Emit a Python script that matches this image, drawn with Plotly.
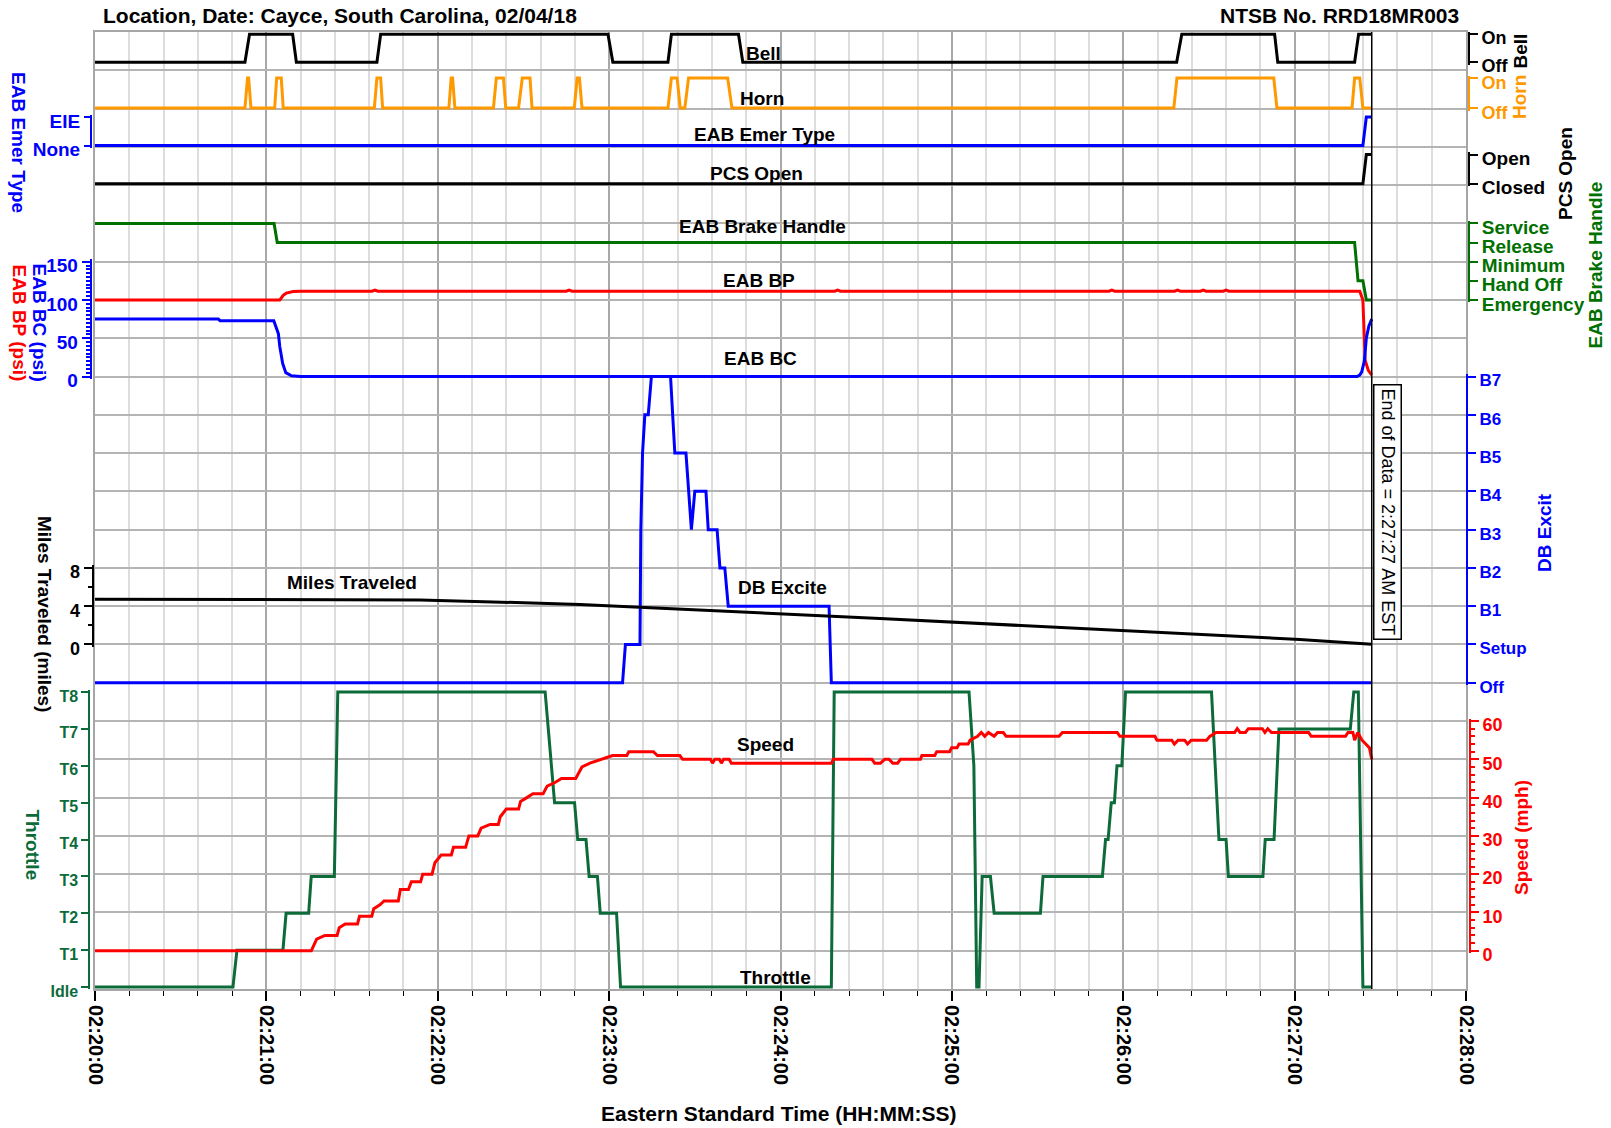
import pandas as pd
import plotly.graph_objects as go

# ---------------------------------------------------------------- data
# times are seconds after 02:20:00 EST, 02/04/18
START = pd.Timestamp("2018-02-04 02:20:00")
STOP = pd.Timestamp("2018-02-04 02:28:00")
END_OF_DATA = pd.Timestamp("2018-02-04 02:27:27")

BELL = [(0, 0), (52.5, 0), (54.1, 1), (69.2, 1), (70.5, 0), (98.7, 0), (100.0, 1),
        (179.6, 1), (181.3, 0), (200.6, 0), (201.8, 1), (225.3, 1), (226.8, 0),
        (378.7, 0), (380.5, 1), (413.0, 1), (414.1, 0), (441.0, 0), (442.4, 1), (447.0, 1)]

HORN = [(0, 0),
        (52.5, 0), (53.4, 1), (53.8, 1), (54.6, 0),
        (62.9, 0), (63.6, 1), (65.2, 1), (65.9, 0),
        (97.8, 0), (98.7, 1), (100.0, 1), (100.7, 0),
        (123.9, 0), (124.7, 1), (125.2, 1), (126.0, 0),
        (139.5, 0), (140.5, 1), (143.0, 1), (143.8, 0),
        (148.3, 0), (149.6, 1), (152.3, 1), (153.0, 0),
        (167.8, 0), (168.8, 1), (169.6, 1), (170.5, 0),
        (200.6, 0), (201.8, 1), (203.8, 1), (204.9, 0),
        (206.5, 0), (207.8, 1), (221.5, 1), (223.0, 0),
        (377.7, 0), (378.8, 1), (412.7, 1), (413.8, 0),
        (440.1, 0), (441.0, 1), (442.8, 1), (443.9, 0),
        (447.0, 0)]

EMER_TYPE = [(0, 0), (443.9, 0), (445.1, 1), (447.0, 1)]          # 0 None, 1 EIE
PCS_OPEN = [(0, 0), (443.9, 0), (445.1, 1), (447.0, 1)]           # 0 Closed, 1 Open

# 0 Emergency, 1 Hand Off, 2 Minimum, 3 Release, 4 Service
BRAKE_HANDLE = [(0, 4), (62.7, 4), (63.8, 3), (441.0, 3), (442.2, 1),
                (443.9, 1), (445.1, 0), (447.0, 0)]

BRAKE_PIPE = [(0, 100), (64.7, 100), (65.9, 106), (67.0, 109), (69.4, 111), (72.0, 111.5),
              (97.0, 111.5), (98.0, 113), (99.0, 111.5), (165.0, 111.5), (166.0, 113),
              (167.0, 111.5), (259.0, 111.5), (260.0, 113), (261.0, 111.5),
              (355.0, 111.5), (356.0, 113), (357.0, 111.5), (378.0, 111.5), (379.0, 113),
              (380.0, 111.5), (387.0, 111.5), (388.0, 113), (389.0, 111.5),
              (395.0, 111.5), (396.0, 113), (397.0, 111.5), (442.8, 111.5),
              (443.9, 100), (444.7, 21), (445.8, 8), (447.0, 2)]

BRAKE_CYL = [(0, 75), (43.2, 75), (43.8, 73), (62.6, 73), (64.2, 56), (64.7, 39),
             (65.7, 17), (66.8, 5), (68.8, 1), (72.0, 0), (441.8, 0), (442.8, 2),
             (443.5, 6), (444.4, 20), (445.1, 50), (446.0, 66), (447.0, 75)]

# 0 Off, 1 Setup, 2..8 = B1..B7
DB_EXCITE = [(0, 0), (184.7, 0), (185.7, 1), (190.8, 1), (191.1, 4), (191.7, 6),
             (192.5, 7), (193.7, 7), (194.8, 8), (201.5, 8), (203.0, 6), (206.9, 6),
             (208.8, 4), (210.0, 5), (213.9, 5), (214.7, 4), (217.8, 4), (218.8, 3),
             (220.5, 3), (221.7, 2), (257.0, 2), (257.8, 0), (447.0, 0)]

MILES = [(0, 4.73), (70.0, 4.73), (93.8, 4.73), (113.8, 4.66), (139.3, 4.45),
         (169.8, 4.18), (274.8, 2.72), (421.8, 0.52), (447.0, 0.03)]

# 0 Idle, 1..8 = T1..T8
THROTTLE = [(0, 0), (48.3, 0), (49.7, 1), (65.8, 1), (66.9, 2), (74.8, 2), (75.7, 3),
            (83.8, 3), (85.0, 8), (157.6, 8), (160.9, 5), (167.9, 5), (169.0, 4),
            (171.9, 4), (173.0, 3), (175.9, 3), (176.9, 2), (182.6, 2), (184.0, 0),
            (257.8, 0), (258.8, 8), (306.0, 8), (307.7, 6), (308.3, 3), (308.7, 0),
            (309.5, 0), (310.6, 3), (313.5, 3), (314.8, 2), (331.0, 2), (331.9, 3),
            (352.7, 3), (353.8, 4), (354.7, 4), (355.8, 5), (356.9, 5), (357.8, 6),
            (359.5, 6), (360.8, 8), (390.9, 8), (393.5, 4), (396.0, 4), (396.8, 3),
            (408.9, 3), (409.7, 4), (412.8, 4), (414.5, 7), (439.5, 7), (440.7, 8),
            (442.3, 8), (443.9, 0), (447.0, 0)]

SPEED = [(0, 0), (75.75, 0), (77.6, 3), (80.5, 4), (84.75, 4), (85.5, 6), (87.6, 7),
         (91.9, 7), (92.6, 9), (96.9, 9), (97.6, 11), (99.75, 12), (101.2, 13),
         (106.2, 13), (106.9, 16), (109.75, 16), (110.75, 18), (114.0, 18), (114.75, 20),
         (118.0, 20), (119.0, 23), (121.2, 25), (124.75, 25), (125.5, 27), (129.75, 27),
         (130.9, 30), (134.0, 30), (135.2, 32), (138.3, 33), (141.2, 33), (141.9, 35),
         (144.0, 37), (148.3, 37), (149.0, 39), (151.2, 40), (153.3, 41), (156.9, 41),
         (158.3, 43), (161.2, 44), (163.3, 45), (168.3, 45), (170.5, 48), (173.3, 49),
         (176.9, 50), (181.2, 51), (186.2, 51), (186.9, 52), (195.5, 52), (196.9, 51),
         (204.75, 51), (205.75, 50), (215.5, 50), (216.2, 49), (217.0, 50), (218.6, 50),
         (219.3, 49), (220.1, 50), (222.0, 50), (222.8, 49), (257.8, 49), (258.5, 50),
         (272.0, 50), (273.0, 49), (275.0, 49), (276.5, 50), (278.0, 50), (279.3, 49),
         (281.0, 49), (282.0, 50), (289.0, 50), (289.5, 51), (294.0, 51), (294.7, 52),
         (299.2, 52), (299.9, 53), (301.8, 53), (302.5, 54), (305.7, 54), (306.4, 55),
         (309.0, 56), (310.3, 57), (311.5, 56), (312.8, 57), (314.8, 56), (316.0, 57),
         (318.0, 57), (319.0, 56), (337.5, 56), (338.7, 57), (357.9, 57), (358.8, 56),
         (371.1, 56), (371.8, 55), (377.0, 55), (377.9, 54), (379.2, 55), (381.5, 55),
         (382.5, 54), (383.8, 55), (389.2, 55), (390.3, 56), (392.5, 57), (399.0, 57),
         (399.9, 58), (400.9, 57), (402.8, 57), (403.8, 58), (408.7, 58), (409.6, 57),
         (410.6, 58), (411.9, 57), (424.9, 57), (425.8, 56), (437.8, 56), (438.7, 57),
         (440.4, 57), (441.0, 55), (442.1, 57), (443.6, 55), (444.9, 54), (446.2, 53),
         (447.0, 50)]

ONOFF = ["Off", "On"]
EMER_LABELS = ["None", "EIE"]
PCS_LABELS = ["Closed", "Open"]
BRAKE_LABELS = ["Emergency", "Hand Off", "Minimum", "Release", "Service"]
DB_LABELS = ["Off", "Setup", "B1", "B2", "B3", "B4", "B5", "B6", "B7"]
THROTTLE_LABELS = ["Idle", "T1", "T2", "T3", "T4", "T5", "T6", "T7", "T8"]

# ---------------------------------------------------------------- page geometry
W, H = 1611, 1128
ML, MR, MT, MB = 80, 120, 32, 139
PAPER_W = W - ML - MR
PLOT_TOP, PLOT_BOTTOM = MT, H - MB
PAPER_H = PLOT_BOTTOM - PLOT_TOP
PLOT_LEFT, PLOT_RIGHT = 95, 1466
ROWS = 25
ROW_H = PAPER_H / ROWS

FONT = "Liberation Sans, Arial, Helvetica, sans-serif"
BLACK, ORANGE, BLUE, RED = "#000000", "#FF9900", "#0000FF", "#FF0000"
BRAKE_GREEN, THROTTLE_GREEN = "#007000", "#0D6B3A"


def px(x):
    return (x - ML) / PAPER_W


def py(y):
    return (PLOT_BOTTOM - y) / PAPER_H


def row(k):
    return PLOT_TOP + k * ROW_H


def at(seconds):
    return START + pd.to_timedelta(list(seconds), unit="s")


def yaxis_for(v_lo, p_lo, v_hi, p_hi, side, x_px, color, size, tickvals=None,
              ticktext=None, dtick=None, minor_dtick=None, ticklen=8, pad=2.5, shift=4):
    k = (p_lo - p_hi) / (v_hi - v_lo)
    bot = min(p_lo + pad, PLOT_BOTTOM)
    top = max(p_hi - pad, PLOT_TOP)
    ax = dict(
        domain=[py(bot), py(top)],
        range=[v_lo - (bot - p_lo) / k, v_hi + (p_hi - top) / k],
        anchor="free", position=px(x_px), side=side,
        showline=True, linecolor=color, linewidth=2,
        ticks="outside", ticklen=ticklen, tickwidth=2, tickcolor=color,
        tickfont=dict(family=FONT, size=size, color=color, weight="bold"),
        showgrid=False, zeroline=False, fixedrange=True, automargin=False,
        ticklabelshift=shift,
    )
    if tickvals is not None:
        ax.update(tickmode="array", tickvals=tickvals, ticktext=ticktext)
    else:
        ax.update(tickmode="linear", tick0=0, dtick=dtick)
    if minor_dtick:
        ax["minor"] = dict(tickmode="linear", tick0=0, dtick=minor_dtick, ticks="outside",
                           ticklen=4, tickwidth=1.5, tickcolor=color, showgrid=False)
    return ax


fig = go.Figure()

# empty trace that carries the gridded frame
fig.add_trace(go.Scatter(x=[], y=[], xaxis="x", yaxis="y", showlegend=False, hoverinfo="skip"))


def add_series(points, color, yaxis):
    t, v = zip(*points)
    fig.add_trace(go.Scatter(x=at(t), y=list(v), mode="lines", xaxis="x2", yaxis=yaxis,
                             line=dict(color=color, width=3), showlegend=False,
                             hoverinfo="skip"))


add_series(BELL, BLACK, "y2")
add_series(HORN, ORANGE, "y3")
add_series(EMER_TYPE, BLUE, "y4")
add_series(PCS_OPEN, BLACK, "y5")
add_series(BRAKE_HANDLE, BRAKE_GREEN, "y6")
add_series(BRAKE_PIPE, RED, "y7")
add_series(BRAKE_CYL, BLUE, "y7")
add_series(DB_EXCITE, BLUE, "y8")
add_series(MILES, BLACK, "y9")
add_series(THROTTLE, THROTTLE_GREEN, "y10")
add_series(SPEED, RED, "y11")

x_domain = [px(PLOT_LEFT), px(PLOT_RIGHT)]

layout_axes = dict(
    xaxis=dict(
        type="date", domain=x_domain, range=[START, STOP], anchor="y",
        tickmode="linear", tick0=START, dtick=60000, tickformat="%H:%M:%S", tickangle=90,
        ticks="outside", ticklen=10, tickwidth=1.5, tickcolor=BLACK,
        tickfont=dict(family=FONT, size=20, color=BLACK, weight="bold"),
        showgrid=True, gridcolor="#a8a8a8", gridwidth=2,
        minor=dict(tickmode="linear", tick0=START, dtick=12000, ticks="outside", ticklen=5,
                   tickwidth=1.2, tickcolor=BLACK, showgrid=True, gridcolor="#dddddd",
                   gridwidth=1.5),
        showline=True, mirror=True, linecolor="#a6a6a6", linewidth=2,
        zeroline=False, fixedrange=True, automargin=False,
    ),
    xaxis2=dict(type="date", domain=x_domain, range=[START, STOP], anchor="y",
                visible=False, fixedrange=True),
    yaxis=dict(
        domain=[0, 1], range=[0, ROWS], tickmode="linear", tick0=0, dtick=1,
        showgrid=True, gridcolor="#b4b4b4", gridwidth=2, showticklabels=False, ticks="",
        showline=True, mirror=True, linecolor="#a6a6a6", linewidth=2,
        zeroline=False, fixedrange=True, automargin=False,
    ),
    yaxis2=yaxis_for(0, 62.3, 1, 34.3, "right", 1469, BLACK, 18, [0, 1], ONOFF, shift=3),
    yaxis3=yaxis_for(0, 108.0, 1, 78.0, "right", 1469, ORANGE, 18, [0, 1], ONOFF, shift=5),
    yaxis4=yaxis_for(0, 145.5, 1, 117.0, "left", 91, BLUE, 19, [0, 1], EMER_LABELS, ticklen=6),
    yaxis5=yaxis_for(0, 183.8, 1, 154.5, "right", 1469, BLACK, 19, [0, 1], PCS_LABELS),
    yaxis6=yaxis_for(0, row(7), 4, row(5), "right", 1469, BRAKE_GREEN, 19,
                     list(range(5)), BRAKE_LABELS),
    yaxis7=yaxis_for(0, row(9), 150, row(6), "left", 90.7, BLUE, 19, dtick=50, minor_dtick=5),
    yaxis8=yaxis_for(0, row(17), 8, row(9), "right", 1467, BLUE, 17,
                     list(range(9)), DB_LABELS),
    yaxis9=yaxis_for(0, row(16), 8, row(14), "left", 92.7, BLACK, 18, dtick=4, minor_dtick=2),
    yaxis10=yaxis_for(0, 987.0, 8, 692.0, "left", 89.3, THROTTLE_GREEN, 16,
                      list(range(9)), THROTTLE_LABELS, ticklen=7),
    yaxis11=yaxis_for(0, row(24), 60, row(18), "right", 1470, RED, 18, dtick=10, minor_dtick=2),
)


def text_at(text, x, y, color=BLACK, size=19, angle=0, xanchor="center", bold=True, **extra):
    a = dict(text=text, x=px(x), y=py(y), xref="paper", yref="paper", showarrow=False,
             textangle=angle, xanchor=xanchor, yanchor="middle",
             font=dict(family=FONT, size=size, color=color,
                       weight="bold" if bold else "normal"))
    a.update(extra)
    return a


annotations = [
    # header
    text_at("Location, Date: Cayce, South Carolina, 02/04/18", 100.7, 15.4, size=21, xanchor="left"),
    text_at("NTSB No. RRD18MR003", 1461, 15.4, size=21, xanchor="right"),
    text_at("Eastern Standard Time (HH:MM:SS)", 779, 1113, size=21),
    # series names
    text_at("Bell", 744, 53.5, xanchor="left"),
    text_at("Horn", 737.5, 98.3, xanchor="left"),
    text_at("EAB Emer Type", 764, 134.6),
    text_at("PCS Open", 756, 173.6),
    text_at("EAB Brake Handle", 762, 227),
    text_at("EAB BP", 758.6, 280.5),
    text_at("EAB BC", 760, 358.6),
    text_at("Miles Traveled", 351.7, 582.5),
    text_at("DB Excite", 782.5, 587.5),
    text_at("Speed", 765.7, 745),
    text_at("Throttle", 775, 977.5),
    # left axis titles
    text_at("EAB Emer Type", 18.5, 142.5, color=BLUE, angle=90),
    text_at("EAB BC (psi)", 39, 322.5, color=BLUE, angle=90),
    text_at("EAB BP (psi)", 19, 322.5, color=RED, angle=90),
    text_at("Miles Traveled (miles)", 45, 614, angle=90),
    text_at("Throttle", 32.5, 845, color=THROTTLE_GREEN, angle=90),
    # right axis titles
    text_at("Bell", 1520.5, 51, angle=-90),
    text_at("Horn", 1519.5, 97.5, color=ORANGE, angle=-90),
    text_at("PCS Open", 1566, 174, angle=-90),
    text_at("EAB Brake Handle", 1594.5, 265, color=BRAKE_GREEN, angle=-90),
    text_at("DB Excit", 1544, 533, color=BLUE, angle=-90),
    text_at("Speed (mph)", 1521.5, 837.5, color=RED, angle=-90),
    # end of data marker text
    text_at("End of Data = 2:27:27 AM EST", 1387, 512, size=18, angle=90, bold=False,
            bordercolor=BLACK, borderwidth=1.5, borderpad=3, bgcolor="white"),
]

fig.update_layout(
    template="none",
    width=W, height=H,
    margin=dict(l=ML, r=MR, t=MT, b=MB, autoexpand=False),
    paper_bgcolor="white", plot_bgcolor="rgba(0,0,0,0)",
    showlegend=False, hovermode=False,
    annotations=annotations,
    shapes=[dict(type="line", xref="x", yref="paper", x0=END_OF_DATA, x1=END_OF_DATA,
                 y0=0, y1=1, line=dict(color=BLACK, width=1.5), layer="above")],
    **layout_axes,
)

fig.write_html("out.html")
